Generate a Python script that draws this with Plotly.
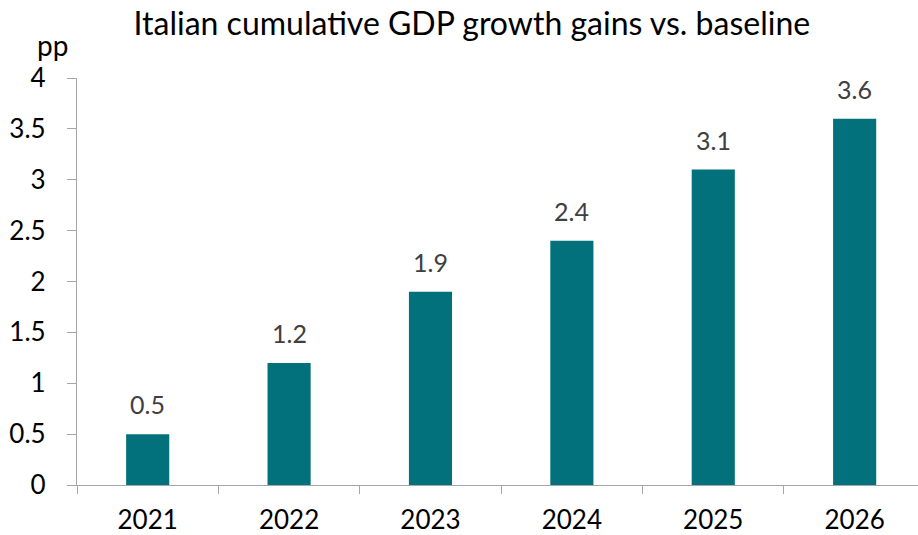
import plotly.graph_objects as go

years = ["2021", "2022", "2023", "2024", "2025", "2026"]
gains = [0.5, 1.2, 1.9, 2.4, 3.1, 3.6]
labels = ["0.5", "1.2", "1.9", "2.4", "3.1", "3.6"]
y_ticks = [0, 0.5, 1, 1.5, 2, 2.5, 3, 3.5, 4]
y_ticktext = ["0", "0.5", "1", "1.5", "2", "2.5", "3", "3.5", "4"]

FONT = "Lato"
BAR = "#02717B"
AXIS = "#A6A6A6"

fig = go.Figure()
fig.add_trace(go.Bar(x=years, y=gains, marker=dict(color=BAR, line=dict(width=0)),
                     width=0.305, hoverinfo="skip"))

for i, (v, t) in enumerate(zip(gains, labels)):
    fig.add_annotation(x=i, y=v, xref="x", yref="y", text=t, showarrow=False,
                       yanchor="bottom", yshift=13,
                       font=dict(family=FONT, size=25, color="#404040"))

fig.add_annotation(xref="paper", yref="paper", x=-0.05, y=1.08, xanchor="left",
                   yanchor="middle", text="pp", showarrow=False,
                   font=dict(family=FONT, size=28, color="#000000"))

fig.update_layout(
    width=918, height=535,
    margin=dict(l=77, r=0, t=78, b=50),
    paper_bgcolor="white", plot_bgcolor="white",
    title=dict(text="Italian cumulative GDP growth gains vs. baseline",
               x=0.514, xref="container", xanchor="center", y=0.955, yanchor="middle",
               font=dict(family=FONT, size=32, color="#000000")),
    showlegend=False,
    bargap=0.7,
)
fig.update_xaxes(type="category", range=[-0.5, 5.448], showline=True, linecolor=AXIS,
                 linewidth=1.3, ticks="outside", tickson="boundaries", ticklen=8,
                 tickcolor=AXIS, ticklabelstandoff=12, showgrid=False,
                 tickfont=dict(family=FONT, size=26, color="#000000"))
fig.update_yaxes(range=[0, 4], tickvals=y_ticks, ticktext=y_ticktext, showline=True,
                 linecolor=AXIS, linewidth=1.3, ticks="outside", ticklen=9,
                 tickcolor=AXIS, ticklabelstandoff=16, showgrid=False, zeroline=False,
                 tickfont=dict(family=FONT, size=26, color="#000000"))

fig.write_html("out.html")
